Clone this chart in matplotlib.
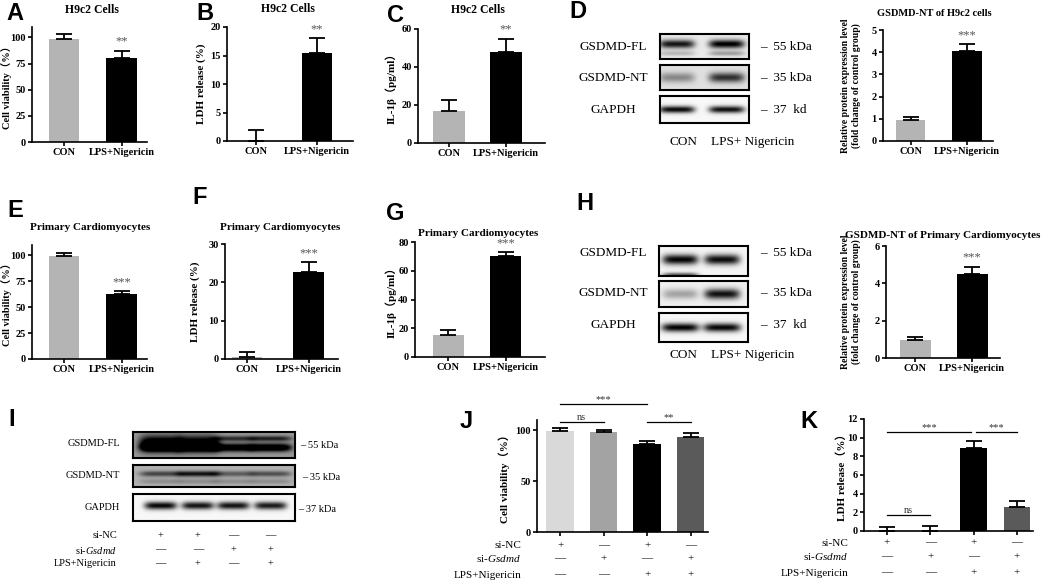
import numpy as np
import matplotlib
matplotlib.use('Agg')
import matplotlib.pyplot as plt
from matplotlib.transforms import blended_transform_factory

plt.rcParams['font.family'] = ['Liberation Serif', 'Noto Sans CJK SC']
plt.rcParams['mathtext.fontset'] = 'custom'
plt.rcParams['mathtext.rm'] = 'Liberation Serif'
plt.rcParams['mathtext.it'] = 'Liberation Serif:italic'

W, H = 1045, 583

# ---- bar data ----
GROUPS = ['CON', 'LPS+Nigericin']
A_VAL, A_ERR = [99, 80.5], [4, 7]
B_VAL, B_ERR = [0, 15.5], [2, 2.6]
C_VAL, C_ERR = [17, 48], [5.5, 7]
D_VAL, D_ERR = [0.95, 4.05], [0.15, 0.3]
E_VAL, E_ERR = [99, 62.5], [3, 2.8]
F_VAL, F_ERR = [0.5, 22.8], [1.2, 2.4]
G_VAL, G_ERR = [15, 70.5], [3.5, 2.5]
H_VAL, H_ERR = [0.95, 4.5], [0.15, 0.4]
J_VAL, J_ERR = [99, 98, 86, 93.5], [3.5, 2.5, 3, 3.5]
K_VAL, K_ERR = [0, 0, 8.86, 2.52], [0.46, 0.54, 0.8, 0.65]

TWO_COLORS = ['#b4b4b4', '#000000']
FOUR_COLORS = ['#d9d9d9', '#a3a3a3', '#000000', '#5a5a5a']

# treatment tables
TABLE_ROWS = ['si-NC', r'si-$\it{Gsdmd}$', 'LPS+Nigericin']
JK_TABLE = [['+', '—', '+', '—'], ['—', '+', '—', '+'], ['—', '—', '+', '+']]
I_TABLE = [['+', '+', '—', '—'], ['—', '—', '+', '+'], ['—', '+', '—', '+']]

# ---- blot band intensities (0 = none, 1 = black) ----
D_FL, D_NT, D_GAPDH = [0.85, 0.95], [0.35, 0.7], [0.95, 0.92]
H_FL, H_NT, H_GAPDH = [0.95, 0.92], [0.3, 0.88], [0.97, 0.95]
I_FL_BODY, I_FL, I_FL_UP = [0.9, 0.85, 0.0, 0.0], [0.6, 0.6, 0.85, 0.9], [0.0, 0.0, 0.45, 0.5]
I_NT, I_GAPDH = [0.45, 0.65, 0.35, 0.4], [0.95, 0.9, 0.9, 0.88]

fig = plt.figure(figsize=(W / 100, H / 100), dpi=100)


def px_ax(x0, x1, ybase, ytop):
    return fig.add_axes([x0 / W, 1 - ybase / H, (x1 - x0) / W, (ybase - ytop) / H])


def ftext(x, y, s, **kw):
    fig.text(x / W, 1 - y / H, s, **kw)


def bar_panel(box, vals, errs, colors, ylim, yticks, xlim, width, ylabel, label_x,
              xlabels=None, stars=None, lab_size=8):
    ax = px_ax(*box)
    x = np.arange(len(vals))
    ax.bar(x, vals, width=width, color=colors, edgecolor='none')
    ax.errorbar(x, vals, yerr=[np.zeros(len(vals)), errs], fmt='none',
                ecolor='black', elinewidth=1.3, capsize=6, capthick=1.3)
    ax.set_xlim(*xlim)
    ax.set_ylim(0, ylim)
    ax.set_yticks(yticks)
    ax.set_xticks(x)
    for s in ['top', 'right']:
        ax.spines[s].set_visible(False)
    for s in ['left', 'bottom']:
        ax.spines[s].set_linewidth(1.2)
    ax.tick_params(width=1.2, length=3, labelsize=7.5, pad=1.5)
    if xlabels:
        ax.set_xticklabels(xlabels, fontsize=7.5, fontweight='bold')
    else:
        ax.set_xticklabels([])
    for t in ax.get_yticklabels():
        t.set_fontweight('bold')
    ax.set_ylabel(ylabel, fontsize=lab_size, fontweight='bold')
    ax.yaxis.set_label_coords((label_x - box[0]) / (box[1] - box[0]), 0.5)
    if stars:
        ax.annotate(stars, (1, vals[1] + errs[1]), xytext=(0, 2),
                    textcoords='offset points', ha='center', va='bottom',
                    fontsize=9, color='#555555')
    return ax


def blot(box, centers, layers, bg, halfw, lw=1.5):
    ax = px_ax(*box)
    xs = np.linspace(0, 1, 300)
    ys = np.linspace(0, 1, 80)
    X, Y = np.meshgrid(xs, ys)
    img = np.full_like(X, bg)
    for intens, yc, hh in layers:
        for c, v in zip(centers, intens):
            img += v * np.exp(-np.abs((X - c) / halfw) ** 5) * np.exp(-((Y - yc) / hh) ** 2)
    ax.imshow(np.clip(img, 0, 1), cmap='gray_r', vmin=0, vmax=1, extent=[0, 1, 0, 1],
              origin='lower', aspect='auto', interpolation='bilinear')
    ax.set_xticks([])
    ax.set_yticks([])
    for s in ax.spines.values():
        s.set_linewidth(lw)
    return ax


# ---- panel letters ----
for let, (lx, ly) in {'A': (15, 14), 'B': (205, 14), 'C': (395, 15), 'D': (578, 12),
                      'E': (15, 210), 'F': (200, 197), 'G': (395, 214), 'H': (585, 203),
                      'I': (12, 420), 'J': (466, 421), 'K': (809, 422)}.items():
    ftext(lx, ly, let, family='Liberation Sans', fontweight='bold', fontsize=17,
          ha='center', va='center')

# ---- top row ----
bar_panel((32, 147, 142, 27), A_VAL, A_ERR, TWO_COLORS, 110, [0, 25, 50, 75, 100],
          (-0.557, 1.44), 0.53, 'Cell viability（%）', 12, GROUPS, '**', lab_size=7.5)
ftext(92, 10, 'H9c2 Cells', fontsize=8.5, fontweight='bold', ha='center', va='center')

bar_panel((227, 353, 141, 27), B_VAL, B_ERR, TWO_COLORS, 20, [0, 5, 10, 15, 20],
          (-0.475, 1.59), 0.49, 'LDH release (%)', 206, GROUPS, '**')
ftext(288, 9, 'H9c2 Cells', fontsize=8.5, fontweight='bold', ha='center', va='center')

bar_panel((418, 545, 143, 29), C_VAL, C_ERR, TWO_COLORS, 60, [0, 20, 40, 60],
          (-0.54, 1.68), 0.55, 'IL-1β（pg/ml）', 397, GROUPS, '**')
ftext(478, 10, 'H9c2 Cells', fontsize=8.5, fontweight='bold', ha='center', va='center')

blot((660, 749, 59, 34), [0.19, 0.75], [(D_FL, 0.6, 0.17), ([0.2, 0.3], 0.22, 0.1)], 0.08, 0.2)
blot((660, 749, 90, 65), [0.19, 0.75], [(D_NT, 0.5, 0.2)], 0.12, 0.2)
blot((660, 749, 123, 96), [0.19, 0.75], [(D_GAPDH, 0.5, 0.13)], 0.03, 0.2)
for txt, y, mk in [('GSDMD-FL', 47, '–  55 kDa'), ('GSDMD-NT', 78, '–  35 kDa'),
                   ('GAPDH', 110, '–  37  kd')]:
    ftext(613, y, txt, fontsize=9.5, ha='center', va='center')
    ftext(760, y, mk, fontsize=9.5, ha='left', va='center')
ftext(683, 142, 'CON', fontsize=9.5, ha='center', va='center')
ftext(753, 142, 'LPS+ Nigericin', fontsize=9.5, ha='center', va='center')

bar_panel((883, 993, 141, 30), D_VAL, D_ERR, TWO_COLORS, 5, [0, 1, 2, 3, 4, 5],
          (-0.49, 1.46), 0.52,
          'Relative protein expression level\n(fold change of control group)', 861,
          GROUPS, '***', lab_size=7)
ftext(934, 13, 'GSDMD-NT of H9c2 cells', fontsize=7.5, fontweight='bold', ha='center', va='center')

# ---- middle row ----
bar_panel((32, 147, 359, 245), E_VAL, E_ERR, TWO_COLORS, 110, [0, 25, 50, 75, 100],
          (-0.557, 1.44), 0.53, 'Cell viability（%）', 12, GROUPS, '***', lab_size=7.5)
ftext(90, 227, 'Primary Cardiomyocytes', fontsize=8, fontweight='bold', ha='center', va='center')

bar_panel((225, 338, 359, 244), F_VAL, F_ERR, TWO_COLORS, 30, [0, 10, 20, 30],
          (-0.36, 1.48), 0.5, 'LDH release (%)', 200, GROUPS, '***')
ftext(280, 227, 'Primary Cardiomyocytes', fontsize=8, fontweight='bold', ha='center', va='center')

bar_panel((415, 545, 357, 242), G_VAL, G_ERR, TWO_COLORS, 80, [0, 20, 40, 60, 80],
          (-0.58, 1.68), 0.54, 'IL-1β（pg/ml）', 397, GROUPS, '***')
ftext(478, 233, 'Primary Cardiomyocytes', fontsize=8, fontweight='bold', ha='center', va='center')

blot((659, 748, 276, 246), [0.24, 0.71], [(H_FL, 0.55, 0.17), ([0.6, 0.0], 0.03, 0.08)], 0.04, 0.2)
blot((659, 748, 307, 281), [0.24, 0.71], [(H_NT, 0.5, 0.2)], 0.06, 0.2)
blot((659, 748, 342, 313), [0.24, 0.71], [(H_GAPDH, 0.5, 0.15)], 0.03, 0.21)
for txt, y, mk in [('GSDMD-FL', 253, '–  55 kDa'), ('GSDMD-NT', 293, '–  35 kDa'),
                   ('GAPDH', 325, '–  37  kd')]:
    ftext(613, y, txt, fontsize=9.5, ha='center', va='center')
    ftext(760, y, mk, fontsize=9.5, ha='left', va='center')
ftext(683, 355, 'CON', fontsize=9.5, ha='center', va='center')
ftext(753, 355, 'LPS+ Nigericin', fontsize=9.5, ha='center', va='center')

bar_panel((886, 1000, 358, 246), H_VAL, H_ERR, TWO_COLORS, 6, [0, 2, 4, 6],
          (-0.52, 1.49), 0.54,
          'Relative protein expression level\n(fold change of control group)', 861,
          GROUPS, '***', lab_size=7)
ftext(943, 236, 'GSDMD-NT of Primary Cardiomyocytes', fontsize=8, fontweight='bold',
      ha='center', va='center')

# ---- bottom row: I blot ----
lanes = [0.17, 0.40, 0.62, 0.85]
blot((133, 295, 458, 432), lanes,
     [(I_FL_BODY, 0.55, 0.3), (I_FL, 0.4, 0.15), (I_FL_UP, 0.75, 0.1)], 0.4, 0.13)
blot((133, 295, 487, 465), lanes, [(I_NT, 0.6, 0.13), ([0.15] * 4, 0.25, 0.12)], 0.3, 0.13)
iax = blot((133, 295, 521, 494), lanes, [(I_GAPDH, 0.55, 0.14)], 0.03, 0.1)
for txt, y, mk, mx in [('GSDMD-FL', 444, '– 55 kDa', 300), ('GSDMD-NT', 475, '– 35 kDa', 302),
                       ('GAPDH', 507, '– 37 kDa', 298)]:
    ftext(120, y, txt, fontsize=7.5, ha='right', va='center')
    ftext(mx, y + 2, mk, fontsize=7.5, ha='left', va='center')
tr = blended_transform_factory(iax.transData, fig.transFigure)
for row, lab, y in zip(I_TABLE, TABLE_ROWS, [536, 550, 564]):
    ftext(117, y, lab, fontsize=7.5, ha='right', va='center')
    for lx, sym in zip(lanes, row):
        iax.text(lx, 1 - y / H, sym, transform=tr, fontsize=7.5, ha='center', va='center')


def bracket(ax, x1, x2, y, label):
    ax.plot([x1, x2], [y, y], color='black', lw=0.9, clip_on=False)
    ax.text((x1 + x2) / 2, y, label, ha='center', va='bottom', fontsize=7.5, color='#333333')


def table(ax, rows_y, lab_x):
    trb = blended_transform_factory(ax.transData, fig.transFigure)
    for row, lab, y in zip(JK_TABLE, TABLE_ROWS, rows_y):
        ftext(lab_x, y, lab, fontsize=8, ha='right', va='center')
        for i, sym in enumerate(row):
            ax.text(i, 1 - y / H, sym, transform=trb, fontsize=8, ha='center', va='center')


jax = bar_panel((537, 708, 532, 420), J_VAL, J_ERR, FOUR_COLORS, 110, [0, 50, 100],
                (-0.53, 3.4), 0.63, 'Cell viability（%）', 510)
bracket(jax, 0, 1, 108, 'ns')
bracket(jax, 0, 2, 125.5, '***')
bracket(jax, 2, 3, 108, '**')
table(jax, [546, 559, 575], 521)

kax = bar_panel((864, 1033, 531, 419), K_VAL, K_ERR, FOUR_COLORS, 12, [0, 2, 4, 6, 8, 10, 12],
                (-0.53, 3.37), 0.62, 'LDH release（%）', 847)
bracket(kax, 0, 1, 1.7, 'ns')
bracket(kax, 0, 1.94, 10.6, '***')
bracket(kax, 2.06, 3, 10.6, '***')
table(kax, [543, 557, 573], 848)

fig.savefig('out.png', dpi=100)
